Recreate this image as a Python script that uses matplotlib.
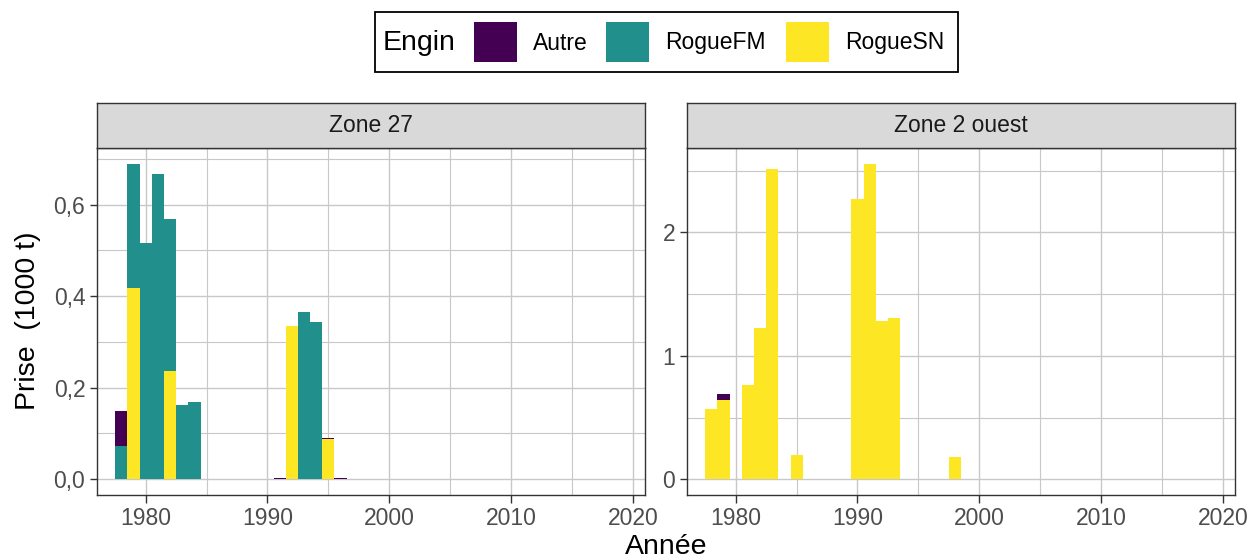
import matplotlib
matplotlib.use("Agg")
import matplotlib.pyplot as plt
import matplotlib.patches as patches
import numpy as np

plt.rcParams['font.family'] = ['Liberation Sans', 'DejaVu Sans']

# Catch by gear type (thousand tonnes), one set of arrays per zone
gears = ["Autre", "RogueFM", "RogueSN"]
gear_colors = ["#440154", "#21908C", "#FDE725"]

years_z27 = [1978, 1979, 1980, 1981, 1982, 1983, 1984, 1991, 1992, 1993, 1994, 1995, 1996]
autre_z27 = [0.076, 0.0, 0.0, 0.0, 0.0, 0.0, 0.0, 0.003, 0.0, 0.0, 0.0, 0.003, 0.003]
roguefm_z27 = [0.073, 0.271, 0.516, 0.667, 0.331, 0.162, 0.169, 0.0, 0.0, 0.366, 0.344, 0.0, 0.0]
roguesn_z27 = [0.0, 0.418, 0.0, 0.0, 0.237, 0.0, 0.0, 0.0, 0.334, 0.0, 0.0, 0.087, 0.0]

years_z2w = [1978, 1979, 1981, 1982, 1983, 1985, 1990, 1991, 1992, 1993, 1998]
autre_z2w = [0.0, 0.049, 0.0, 0.0, 0.0, 0.0, 0.0, 0.0, 0.0, 0.0, 0.0]
roguefm_z2w = [0.0] * 11
roguesn_z2w = [0.570, 0.643, 0.766, 1.227, 2.517, 0.197, 2.273, 2.557, 1.284, 1.308, 0.181]

zones = ["Zone 27", "Zone 2 ouest"]
x_ticks = [1980, 1990, 2000, 2010, 2020]
x_minor = [1985, 1995, 2005, 2015]

W, H = 1252, 560
fig = plt.figure(figsize=(W / 100, H / 100), dpi=100)

small = 16.5
big = 20.5
grid_col = "#c8c8c8"
dark = "#333333"


def fx(px):
    return px / W


def fy(py):
    return 1 - py / H


def draw_panel(left_px, years, autre, roguefm, roguesn, title, yticks, ylabels, yminor):
    ax = fig.add_axes([fx(left_px), fy(495), fx(548), (495 - 148) / H])
    years = np.array(years)
    # stack order from bottom: RogueSN, RogueFM, Autre
    bottom = np.zeros(len(years))
    for vals, col in [(roguesn, gear_colors[2]), (roguefm, gear_colors[1]), (autre, gear_colors[0])]:
        vals = np.array(vals)
        ax.bar(years, vals, width=1.0, bottom=bottom, color=col, linewidth=0, zorder=3)
        bottom = bottom + vals
    top = bottom.max()
    ax.set_xticks(x_ticks)
    ax.set_xticks(x_minor, minor=True)
    ax.set_yticks(yticks)
    ax.set_yticklabels(ylabels)
    ax.set_yticks(yminor, minor=True)
    ax.set_ylim(-0.05 * top, 1.05 * top)
    ax.set_xlim(1976.0, 2021.0)
    ax.grid(True, which="major", color=grid_col, linewidth=1.0, zorder=0)
    ax.grid(True, which="minor", color=grid_col, linewidth=0.8, zorder=0)
    ax.tick_params(which="major", length=5.4, width=1.0, color=dark, labelsize=small,
                   labelcolor="#4d4d4d", pad=3)
    ax.tick_params(which="minor", length=0)
    for s in ax.spines.values():
        s.set_color(dark)
        s.set_linewidth(1.0)
    ax.set_axisbelow(True)

    # facet strip
    sax = fig.add_axes([fx(left_px), fy(148), fx(548), (148 - 103) / H])
    sax.set_facecolor("#d9d9d9")
    sax.set_xticks([])
    sax.set_yticks([])
    for s in sax.spines.values():
        s.set_color(dark)
        s.set_linewidth(1.0)
    sax.text(0.5, 0.5, title, ha="center", va="center", fontsize=small, color="#1a1a1a",
             transform=sax.transAxes)
    return ax


ax1 = draw_panel(97, years_z27, autre_z27, roguefm_z27, roguesn_z27, zones[0],
                 [0.0, 0.2, 0.4, 0.6], ["0,0", "0,2", "0,4", "0,6"], [0.1, 0.3, 0.5, 0.7])
ax2 = draw_panel(687, years_z2w, autre_z2w, roguefm_z2w, roguesn_z2w, zones[1],
                 [0, 1, 2], ["0", "1", "2"], [0.5, 1.5, 2.5])

# axis titles
fig.text(fx(666), fy(547), "Année", ha="center", va="center", fontsize=big, color="black")
fig.text(fx(28), fy(321), "Prise  (1000 t)", ha="center", va="center", rotation=90,
         fontsize=big, color="black")

# legend box on top
fig.patches.append(patches.Rectangle((fx(375), fy(72)), fx(958 - 375), (72 - 12) / H,
                                     transform=fig.transFigure, fill=False,
                                     edgecolor="black", linewidth=1.3))
fig.text(fx(383), fy(43), "Engin", ha="left", va="center", fontsize=big)
swatch_x = [474, 606, 786]
label_x = [533, 665, 845]
for g, c, sx, lx in zip(gears, gear_colors, swatch_x, label_x):
    fig.patches.append(patches.Rectangle((fx(sx), fy(62)), fx(43), 40 / H,
                                         transform=fig.transFigure, facecolor=c,
                                         edgecolor="none"))
    fig.text(fx(lx), fy(43), g, ha="left", va="center", fontsize=small)

fig.savefig("out.png", dpi=100)
